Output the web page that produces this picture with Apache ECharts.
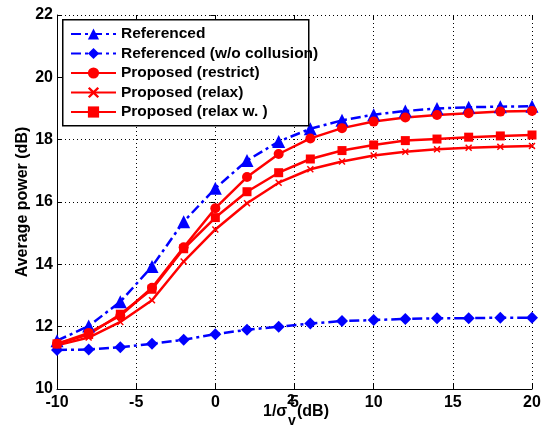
<!DOCTYPE html>
<html>
<head>
<meta charset="utf-8">
<script src="https://cdn.jsdelivr.net/npm/echarts@6/dist/echarts.min.js"></script>
<style>
html, body { margin: 0; padding: 0; background: #fff; }
#chart { width: 546px; height: 436px; }
</style>
</head>
<body>
<div id="chart"></div>
<script>
// x values, 1/sigma_v^2 (dB)
const snr = [-10, -8, -6, -4, -2, 0, 2, 4, 6, 8, 10, 12, 14, 16, 18, 20];

// average power (dB)
const referenced    = [11.55, 12.02, 12.8, 13.93, 15.37, 16.44, 17.33, 17.94, 18.35, 18.62, 18.8, 18.92, 19.0, 19.04, 19.06, 19.07];
const referencedWo  = [11.25, 11.27, 11.34, 11.45, 11.58, 11.76, 11.9, 12.0, 12.1, 12.18, 12.21, 12.25, 12.27, 12.27, 12.29, 12.29];
const propRestrict  = [11.45, 11.8, 12.35, 13.25, 14.55, 15.8, 16.8, 17.54, 18.04, 18.37, 18.58, 18.71, 18.79, 18.85, 18.9, 18.92];
const propRelax     = [11.4, 11.65, 12.15, 12.85, 14.09, 15.12, 15.96, 16.62, 17.05, 17.3, 17.49, 17.61, 17.69, 17.74, 17.77, 17.8];
const propRelaxW    = [11.45, 11.75, 12.4, 13.2, 14.5, 15.5, 16.33, 16.94, 17.38, 17.65, 17.83, 17.97, 18.02, 18.08, 18.12, 18.15];

const names = ['Referenced', 'Referenced (w/o collusion)', 'Proposed (restrict)', 'Proposed (relax)', 'Proposed (relax w. )'];

const FONT = 'Arial, "Liberation Sans", sans-serif';
const crossIcon = 'path://M0,1.5L1.5,0L5,3.5L8.5,0L10,1.5L6.5,5L10,8.5L8.5,10L5,6.5L1.5,10L0,8.5L3.5,5Z';

function pairs(vals) {
  return snr.map((x, i) => [x, vals[i]]);
}

function blueLine(name, vals, symbol, size) {
  return {
    name: name, type: 'line', data: pairs(vals),
    symbol: symbol, symbolSize: size,
    lineStyle: { color: '#0000ff', width: 2.5, type: [10, 4, 3, 4] },
    itemStyle: { color: '#0000ff' }
  };
}
function redLine(name, vals, symbol, size) {
  return {
    name: name, type: 'line', data: pairs(vals),
    symbol: symbol, symbolSize: size,
    lineStyle: { color: '#ff0000', width: 2.5, type: 'solid' },
    itemStyle: { color: '#ff0000' }
  };
}

const chart = echarts.init(document.getElementById('chart'));

const gridLine = { show: true, lineStyle: { color: '#000', type: [1, 3], width: 1 } };
const tickLbl = { fontFamily: FONT, fontWeight: 'bold', fontSize: 16, color: '#000' };

chart.setOption({
  animation: false,
  grid: { left: 57, right: 14, top: 15, bottom: 47, containLabel: false, outerBoundsMode: 'none' },
  legend: {
    left: 62, top: 19, orient: 'vertical',
    padding: [7, 8, 7, 8],
    itemWidth: 45, itemHeight: 14, itemGap: 3.5,
    textStyle: { fontFamily: FONT, fontWeight: 'bold', fontSize: 15.5, color: '#000' },
    data: names,
    z: 10
  },
  xAxis: [{
    type: 'value', min: -10, max: 20, interval: 5,
    axisLine: { show: true, onZero: false, lineStyle: { color: '#000', width: 1 } },
    axisTick: { show: true, inside: true, length: 5, lineStyle: { color: '#000' } },
    axisLabel: Object.assign({ margin: 6 }, tickLbl),
    splitLine: gridLine
  }, {
    type: 'value', min: -10, max: 20, interval: 5, position: 'top',
    axisLine: { show: false },
    axisTick: { show: true, inside: true, length: 5, lineStyle: { color: '#000' } },
    axisLabel: { show: false },
    splitLine: { show: false }
  }],
  yAxis: [{
    type: 'value', min: 10, max: 22, interval: 2,
    name: 'Average power (dB)', nameLocation: 'middle', nameGap: 26, nameMoveOverlap: false,
    nameTextStyle: { fontFamily: FONT, fontWeight: 'bold', fontSize: 16, color: '#000' },
    axisLine: { show: true, onZero: false, lineStyle: { color: '#000', width: 1 } },
    axisTick: { show: true, inside: true, length: 5, lineStyle: { color: '#000' } },
    axisLabel: Object.assign({ margin: 4 }, tickLbl),
    splitLine: gridLine
  }, {
    type: 'value', min: 10, max: 22, interval: 2, position: 'right',
    axisLine: { show: false },
    axisTick: { show: true, inside: true, length: 5, lineStyle: { color: '#000' } },
    axisLabel: { show: false },
    splitLine: { show: false }
  }],
  graphic: [
    // legend frame (narrower than the longest label, as in the figure)
    { type: 'rect', left: 62, top: 19, z: 5, shape: { width: 246, height: 106 },
      style: { fill: '#fff', stroke: '#000', lineWidth: 1.5 } },
    // x axis title: 1/σ_v^2 (dB)
    { type: 'text', left: 263, top: 404, z: 10,
      style: { text: '1/σ', fontFamily: FONT, fontWeight: 'bold', fontSize: 16, fill: '#000' } },
    { type: 'text', left: 287, top: 393, z: 10,
      style: { text: '2', fontFamily: FONT, fontWeight: 'bold', fontSize: 14, fill: '#000' } },
    { type: 'text', left: 288, top: 414, z: 10,
      style: { text: 'v', fontFamily: FONT, fontWeight: 'bold', fontSize: 14, fill: '#000' } },
    { type: 'text', left: 297, top: 404, z: 10,
      style: { text: '(dB)', fontFamily: FONT, fontWeight: 'bold', fontSize: 16, fill: '#000' } }
  ],
  series: [
    blueLine(names[0], referenced, 'triangle', 13),
    blueLine(names[1], referencedWo, 'diamond', 12),
    redLine(names[2], propRestrict, 'circle', 10),
    redLine(names[3], propRelax, crossIcon, 7),
    redLine(names[4], propRelaxW, 'rect', 9)
  ]
});
</script>
</body>
</html>
